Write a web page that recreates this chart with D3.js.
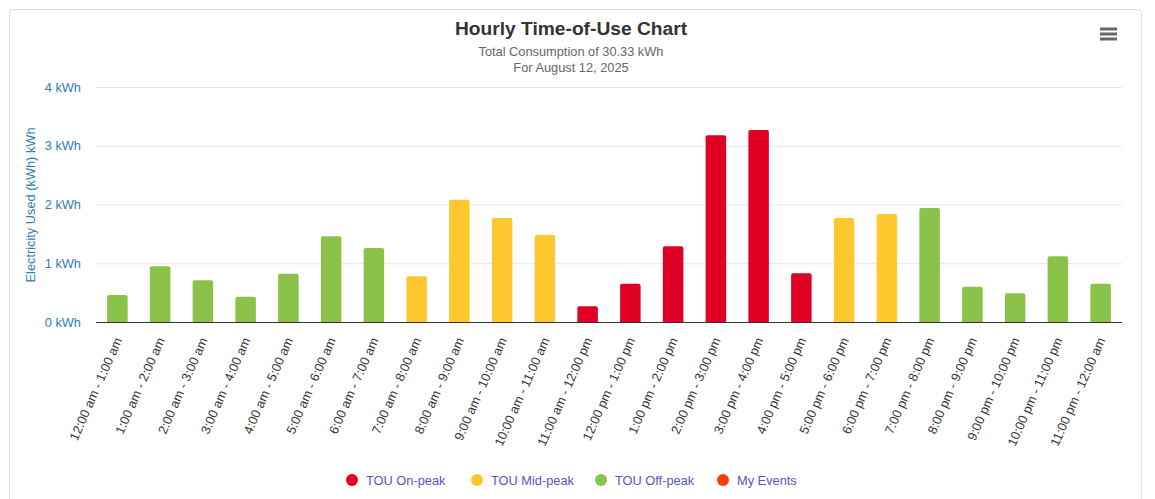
<!DOCTYPE html>
<html><head><meta charset="utf-8">
<script src="https://cdn.jsdelivr.net/npm/d3@7"></script>
<style>
html,body{margin:0;padding:0;background:#fff;}
svg{font-family:"Liberation Sans",Arial,Helvetica,sans-serif;display:block;}
</style></head>
<body><svg id="c" width="1155" height="499"></svg>
<script>
const categories = ["12:00 am - 1:00 am","1:00 am - 2:00 am","2:00 am - 3:00 am","3:00 am - 4:00 am","4:00 am - 5:00 am","5:00 am - 6:00 am","6:00 am - 7:00 am","7:00 am - 8:00 am","8:00 am - 9:00 am","9:00 am - 10:00 am","10:00 am - 11:00 am","11:00 am - 12:00 pm","12:00 pm - 1:00 pm","1:00 pm - 2:00 pm","2:00 pm - 3:00 pm","3:00 pm - 4:00 pm","4:00 pm - 5:00 pm","5:00 pm - 6:00 pm","6:00 pm - 7:00 pm","7:00 pm - 8:00 pm","8:00 pm - 9:00 pm","9:00 pm - 10:00 pm","10:00 pm - 11:00 pm","11:00 pm - 12:00 am"];
const values = [0.46,0.95,0.71,0.43,0.82,1.46,1.26,0.78,2.08,1.77,1.48,0.27,0.65,1.29,3.18,3.27,0.83,1.77,1.84,1.94,0.60,0.49,1.12,0.65];
const periods = ["off","off","off","off","off","off","off","mid","mid","mid","mid","on","on","on","on","on","on","mid","mid","off","off","off","off","off"];
const seriesNames = ["TOU On-peak","TOU Mid-peak","TOU Off-peak","My Events"];
const seriesKeys = ["on","mid","off","event"];
const yTicks = [0,1,2,3,4];
const title = "Hourly Time-of-Use Chart";
const subtitle = ["Total Consumption of 30.33 kWh","For August 12, 2025"];
const yTitle = "Electricity Used (kWh) kWh";

const colors = {on:"#df0024", mid:"#ffc82e", off:"#8bc34a", event:"#ff3d0f"};
const fs = 12.8;

const svg = d3.select("#c");
svg.append("rect").attr("x",9.5).attr("y",9.5).attr("width",1132).attr("height",500)
  .attr("rx",4).attr("fill","#fff").attr("stroke","#dddddd");

const pLeft = 96, pRight = 1122, pTop = 87, pBottom = 322;
const x = d3.scaleBand().domain(categories).range([pLeft,pRight]).paddingInner(0.52).paddingOuter(0.26);
const y = d3.scaleLinear().domain([0,4]).range([pBottom,pTop]);

svg.append("g").selectAll("line").data(yTicks.slice(1)).join("line")
  .attr("x1",pLeft).attr("x2",pRight).attr("y1",d=>y(d)+0.5).attr("y2",d=>y(d)+0.5)
  .attr("stroke","#e6e6e6").attr("stroke-width",1);

svg.append("g").selectAll("text").data(yTicks).join("text")
  .attr("x",81).attr("y",d=>y(d)+4.5).attr("text-anchor","end")
  .attr("font-size",fs).attr("fill","#2f7db3").text(d=>d+" kWh");

svg.append("text").attr("transform","translate(35,205) rotate(-90)")
  .attr("text-anchor","middle").attr("font-size",fs).attr("fill","#2f7db3").text(yTitle);

const radius = 2;
svg.append("g").selectAll("path").data(values).join("path")
  .attr("fill",(d,i)=>colors[periods[i]])
  .attr("d",(d,i)=>{
    const x0 = x(categories[i]), w = x.bandwidth(), y0 = y(d), y1 = y(0);
    const r = Math.min(radius, (y1-y0)/2);
    return `M${x0},${y1}V${y0+r}Q${x0},${y0} ${x0+r},${y0}H${x0+w-r}Q${x0+w},${y0} ${x0+w},${y0+r}V${y1}Z`;
  });

svg.append("line").attr("x1",pLeft).attr("x2",pRight).attr("y1",pBottom+0.5).attr("y2",pBottom+0.5)
  .attr("stroke","#333").attr("stroke-width",1);

svg.append("g").selectAll("text").data(categories).join("text")
  .attr("transform",d=>`translate(${x(d)+x.bandwidth()/2+5},${pBottom+18}) rotate(-66)`)
  .attr("text-anchor","end").attr("font-size",fs).attr("fill","#333").text(d=>d);

svg.append("text").attr("x",571).attr("y",35).attr("text-anchor","middle")
  .attr("font-size",19.2).attr("font-weight","bold").attr("fill","#333").text(title);
svg.append("g").selectAll("text").data(subtitle).join("text")
  .attr("x",571).attr("y",(d,i)=>56+i*15.5).attr("text-anchor","middle")
  .attr("font-size",fs).attr("fill","#666").text(d=>d);

svg.append("g").selectAll("line").data([0,1,2]).join("line")
  .attr("x1",1100).attr("x2",1117).attr("y1",d=>29+d*5).attr("y2",d=>29+d*5)
  .attr("stroke","#666").attr("stroke-width",3);

const legX = [352,477,601,723];
const lg = svg.append("g").selectAll("g").data(seriesNames).join("g")
  .attr("transform",(d,i)=>`translate(${legX[i]},480)`);
lg.append("circle").attr("r",6).attr("cx",0).attr("cy",0).attr("fill",(d,i)=>colors[seriesKeys[i]]);
lg.append("text").attr("x",14).attr("y",5).attr("font-size",fs).attr("fill","#5555c8").text(d=>d);
</script></body></html>
